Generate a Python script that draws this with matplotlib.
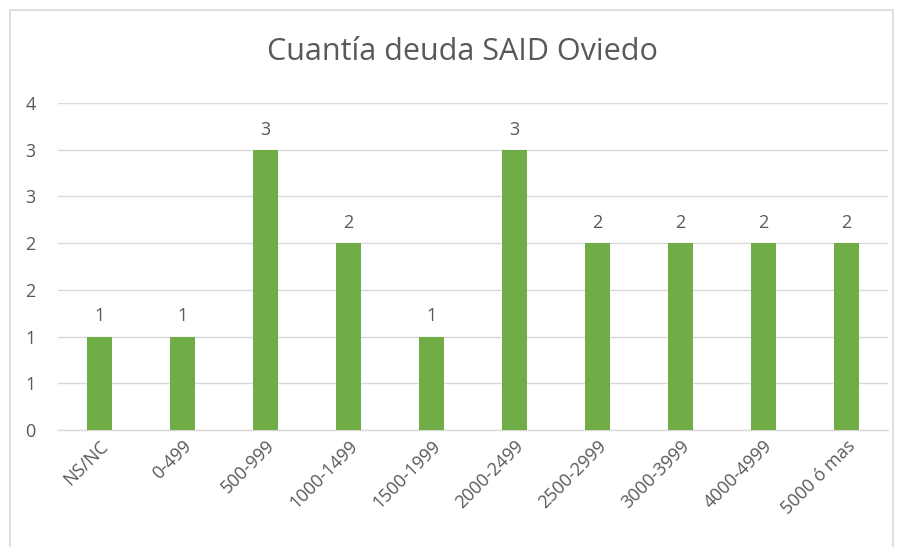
import matplotlib
matplotlib.use("Agg")
import matplotlib.pyplot as plt
from matplotlib.patches import Rectangle
from matplotlib.ticker import FixedLocator, FuncFormatter

categories = ["NS/NC", "0-499", "500-999", "1000-1499", "1500-1999",
              "2000-2499", "2500-2999", "3000-3999", "4000-4999", "5000 ó mas"]
values = [1, 1, 3, 2, 1, 3, 2, 2, 2, 2]
y_ticks = [0, 0.5, 1, 1.5, 2, 2.5, 3, 3.5]

plt.rcParams["font.family"] = ["Open Sans", "DejaVu Sans"]
text_col = "#595959"
grid_col = "#D9D9D9"

fig = plt.figure(figsize=(9.01, 5.47), dpi=100)
# chart border (Excel style frame)
fig.patches.append(Rectangle((10 / 901, -0.01), 883 / 901, 1 - 10 / 547 + 0.01,
                             transform=fig.transFigure, fill=False,
                             edgecolor=grid_col, linewidth=1.2))

ax = fig.add_axes([58 / 901, 1 - 430 / 547, (888 - 58) / 901, (430 - 103) / 547])
x = range(len(categories))
ax.bar(x, values, width=0.31, color="#70AD47", zorder=3)
ax.set_xlim(-0.5, len(categories) - 0.5)
ax.set_ylim(0, 3.5)

ax.yaxis.set_major_locator(FixedLocator(y_ticks))
ax.yaxis.set_major_formatter(FuncFormatter(lambda v, p: str(int(v + 0.5))))
ax.grid(axis="y", color=grid_col, linewidth=1, zorder=0)
for s in ["top", "right", "left"]:
    ax.spines[s].set_visible(False)
ax.spines["bottom"].set_color(grid_col)
ax.spines["bottom"].set_linewidth(1)

ax.tick_params(axis="y", length=0, pad=16, labelsize=13, labelcolor=text_col)
ax.tick_params(axis="x", length=0, pad=5, labelsize=13, labelcolor=text_col)
ax.set_xticks(list(x))
ax.set_xticklabels(categories, rotation=45, ha="right", va="top",
                   rotation_mode="anchor")

for i, v in zip(x, values):
    ax.annotate(str(v), (i, v), xytext=(0, 8), textcoords="offset points",
                ha="center", va="bottom", fontsize=13, color=text_col)

fig.text(462 / 901, 1 - 52 / 547, "Cuantía deuda SAID Oviedo", ha="center", va="center",
         fontsize=22, color=text_col)

fig.savefig("out.png", dpi=100)
